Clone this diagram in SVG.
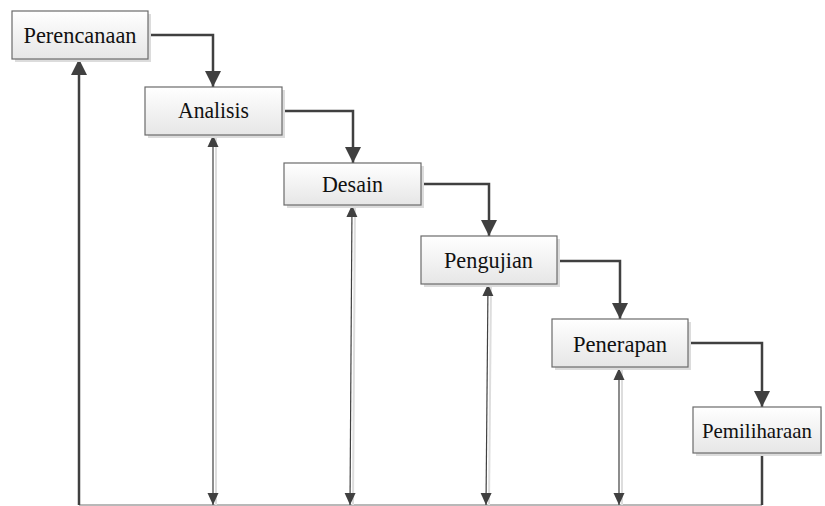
<svg xmlns="http://www.w3.org/2000/svg" width="825" height="506" viewBox="0 0 825 506">
<defs>
<linearGradient id="g" x1="0" y1="0" x2="0" y2="1">
<stop offset="0" stop-color="#ffffff"/>
<stop offset="1" stop-color="#e6e6e6"/>
</linearGradient>
<marker id="ah" markerUnits="userSpaceOnUse" markerWidth="16" markerHeight="18" viewBox="0 0 16 18" refX="16" refY="9" orient="auto">
<path d="M0,1 L16,9 L0,17 Z" fill="#404040"/>
</marker>
<marker id="sh" markerUnits="userSpaceOnUse" markerWidth="12" markerHeight="12" viewBox="0 0 12 12" refX="12" refY="6" orient="auto-start-reverse">
<path d="M0,0.5 L12,6 L0,11.5 Z" fill="#404040"/>
</marker>
</defs>
<style>
.box{fill:url(#g);stroke:#6b6b6b;stroke-width:1.2}
.shadow{fill:#dcdcdc}
.t{font-family:"Liberation Serif","Times New Roman",serif;font-size:24px;fill:#111;text-anchor:middle}
.c{fill:none;stroke:#404040;stroke-width:2.5}
.d{fill:none;stroke:#404040;stroke-width:1.2}
.ds{fill:none;stroke:#dddddd;stroke-width:2}
.base{fill:none;stroke:#a0a0a0;stroke-width:1.5}
</style>
<g id="connectors">
<path class="base" d="M79,505 H762"/>
<path class="c" d="M79,505 V59" marker-end="url(#ah)"/>
<path class="c" d="M148,35 H213 V87" marker-end="url(#ah)"/>
<path class="c" d="M282,111 H353 V163" marker-end="url(#ah)"/>
<path class="c" d="M421,184 H489 V236" marker-end="url(#ah)"/>
<path class="c" d="M557,261 H620 V319" marker-end="url(#ah)"/>
<path class="c" d="M688,343 H762 V407" marker-end="url(#ah)"/>
<path class="c" d="M762,453 V505"/>
<path class="ds" d="M216,137 V505"/>
<path class="d" d="M213,135 V505" marker-start="url(#sh)" marker-end="url(#sh)"/>
<path class="ds" d="M355,207 L353,505"/>
<path class="d" d="M352,205 L350,505" marker-start="url(#sh)" marker-end="url(#sh)"/>
<path class="ds" d="M491,286 L489,505"/>
<path class="d" d="M488,284 L486,505" marker-start="url(#sh)" marker-end="url(#sh)"/>
<path class="ds" d="M622,370 V505"/>
<path class="d" d="M619,368 V505" marker-start="url(#sh)" marker-end="url(#sh)"/>
</g>
<g id="perencanaan">
<rect class="shadow" x="15" y="14" width="136" height="48"/>
<rect class="box" x="12" y="11" width="136" height="48"/>
<text class="t" x="80" y="43" textLength="113" lengthAdjust="spacingAndGlyphs">Perencanaan</text>
</g>
<g id="analisis">
<rect class="shadow" x="148" y="90" width="137" height="48"/>
<rect class="box" x="145" y="87" width="137" height="48"/>
<text class="t" x="213.5" y="118" textLength="71" lengthAdjust="spacingAndGlyphs">Analisis</text>
</g>
<g id="desain">
<rect class="shadow" x="287" y="166" width="137" height="42"/>
<rect class="box" x="284" y="163" width="137" height="42"/>
<text class="t" x="352.5" y="192" textLength="61" lengthAdjust="spacingAndGlyphs">Desain</text>
</g>
<g id="pengujian">
<rect class="shadow" x="424" y="239" width="136" height="48"/>
<rect class="box" x="421" y="236" width="136" height="48"/>
<text class="t" x="488.5" y="268" textLength="89" lengthAdjust="spacingAndGlyphs">Pengujian</text>
</g>
<g id="penerapan">
<rect class="shadow" x="555" y="322" width="136" height="48"/>
<rect class="box" x="552" y="319" width="136" height="48"/>
<text class="t" x="620" y="352" textLength="94" lengthAdjust="spacingAndGlyphs">Penerapan</text>
</g>
<g id="pemiliharaan">
<rect class="shadow" x="696" y="410" width="126" height="46"/>
<rect class="box" x="693" y="407" width="128" height="46"/>
<text class="t" x="757" y="438" style="font-size:22px" textLength="110" lengthAdjust="spacingAndGlyphs">Pemiliharaan</text>
</g>
</svg>
